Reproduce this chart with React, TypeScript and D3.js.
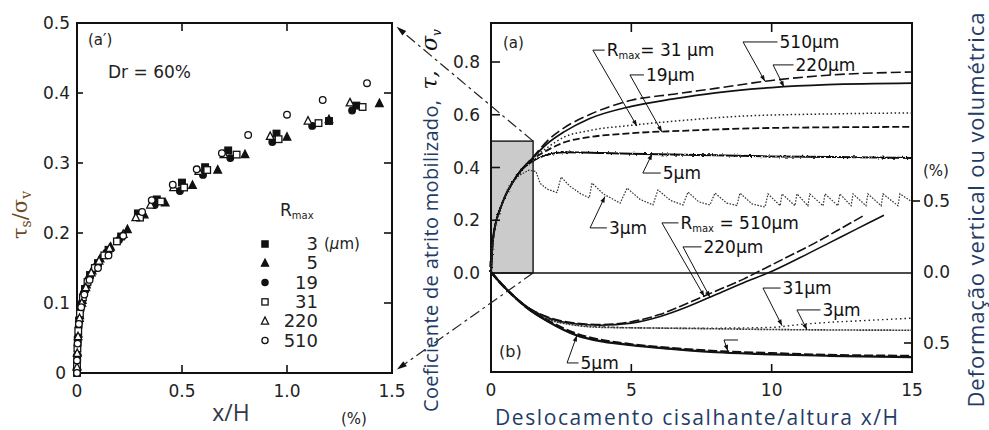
import React from "react";
import * as d3 from "d3";

// ---------- DATA ----------
// Left panel (a'): tau_s / sigma_v vs x/H (%)
const leftXTicks = [0, 0.5, 1.0, 1.5];
const leftXTickLabels = ["0", "0.5", "1.0", "1.5"];
const leftYTicks = [0.1, 0.2, 0.3, 0.4, 0.5];
const leftYTickLabels = ["0.1", "0.2", "0.3", "0.4", "0.5"];

const legendSizes = ["3", "5", "19", "31", "220", "510"];
const legendMarkers = ["fsq", "ftri", "fcirc", "osq", "otri", "ocirc"];

const s3 = [[0.0,0.005],[0.001,0.022],[0.004,0.048],[0.01,0.075],[0.02,0.098],[0.038,0.12],[0.062,0.14],[0.1,0.157],[0.15,0.176],[0.21,0.195],[0.29,0.228],[0.38,0.248],[0.5,0.272],[0.61,0.294],[0.72,0.318],[0.95,0.342],[1.2,0.36],[1.33,0.382]];
const s5 = [[0.0,0.01],[0.002,0.03],[0.006,0.056],[0.013,0.082],[0.025,0.104],[0.045,0.126],[0.072,0.146],[0.11,0.163],[0.16,0.18],[0.24,0.205],[0.32,0.226],[0.42,0.243],[0.55,0.268],[0.67,0.29],[0.8,0.312],[1.0,0.337],[1.2,0.362],[1.44,0.385]];
const s19 = [[0.0,0.002],[0.001,0.016],[0.003,0.04],[0.008,0.066],[0.017,0.09],[0.032,0.114],[0.055,0.134],[0.09,0.152],[0.14,0.172],[0.2,0.19],[0.3,0.225],[0.37,0.24],[0.49,0.26],[0.6,0.283],[0.73,0.307],[0.93,0.33],[1.12,0.353],[1.31,0.375]];
const s31 = [[0.0,0.0],[0.0,0.012],[0.002,0.035],[0.006,0.06],[0.014,0.085],[0.028,0.108],[0.05,0.13],[0.085,0.15],[0.13,0.168],[0.19,0.188],[0.3,0.222],[0.4,0.245],[0.51,0.265],[0.62,0.29],[0.76,0.312],[0.96,0.334],[1.15,0.357],[1.36,0.38]];
const s220 = [[0.0,0.008],[0.001,0.028],[0.005,0.052],[0.012,0.078],[0.023,0.1],[0.042,0.122],[0.068,0.143],[0.105,0.16],[0.155,0.178],[0.22,0.198],[0.28,0.222],[0.35,0.24],[0.46,0.265],[0.58,0.288],[0.7,0.312],[0.92,0.338],[1.1,0.36],[1.3,0.386]];
const s510 = [[0.0,0.0],[0.0,0.018],[0.003,0.042],[0.009,0.07],[0.02,0.094],[0.035,0.112],[0.06,0.133],[0.1,0.15],[0.15,0.168],[0.22,0.196],[0.31,0.23],[0.356,0.247],[0.456,0.269],[0.57,0.291],[0.69,0.314],[0.815,0.34],[1.0,0.369],[1.17,0.39],[1.381,0.414]];
const scatterSeries = [s3, s5, s19, s31, s220, s510];

// Right panel (a)/(b)
const rightXTicks = [0, 5, 10, 15];
const rightXTickLabels = ["0", "5", "10", "15"];
const rightFTicks = [0.0, 0.2, 0.4, 0.6, 0.8];
const rightFTickLabels = ["0.0", "0.2", "0.4", "0.6", "0.8"];
const rightDTicks = [-0.5, 0.0, 0.5];
const rightDTickLabels = ["0.5", "0.0", "0.5"];

// friction coefficient curves (upper, a)
const U510 = [[0,0],[0.05,0.1],[0.15,0.18],[0.3,0.235],[0.5,0.29],[0.75,0.34],[1,0.38],[1.5,0.44],[2,0.5],[2.6,0.55],[3.5,0.6],[5,0.655],[6.5,0.678],[8,0.7],[10,0.73],[12,0.75],[15,0.762]];
const U220 = [[0,0],[0.05,0.1],[0.15,0.18],[0.3,0.235],[0.5,0.29],[0.75,0.34],[1,0.38],[1.5,0.438],[2,0.49],[2.6,0.535],[3.5,0.585],[5,0.632],[6.5,0.66],[8,0.683],[10,0.703],[12,0.714],[15,0.72]];
const U31 = [[0,0],[0.05,0.1],[0.15,0.18],[0.3,0.235],[0.5,0.29],[0.75,0.34],[1,0.38],[1.5,0.435],[2,0.475],[2.6,0.515],[3.5,0.54],[5,0.56],[7,0.58],[9,0.595],[12,0.603],[15,0.607]];
const U19 = [[0,0],[0.05,0.1],[0.15,0.18],[0.3,0.235],[0.5,0.29],[0.75,0.34],[1,0.38],[1.5,0.432],[2,0.465],[2.6,0.495],[3.5,0.515],[5,0.53],[7,0.54],[10,0.55],[15,0.554]];
const U5 = [[0,0],[0.05,0.1],[0.15,0.18],[0.3,0.235],[0.5,0.29],[0.75,0.34],[1,0.38],[1.5,0.425],[2,0.448],[2.6,0.458],[4,0.455],[6,0.45],[8,0.446],[10,0.442],[12,0.44],[15,0.436]];
const U3 = [[0,0],[0.05,0.1],[0.15,0.18],[0.3,0.235],[0.5,0.29],[0.75,0.34],[1,0.37],[1.35,0.39],[1.6,0.385],[1.75,0.34],[2.0,0.318],[2.35,0.305],[2.5,0.364],[2.8,0.33],[3.2,0.3],[3.5,0.285],[3.6,0.341],[4.0,0.3],[4.6,0.265],[4.85,0.322],[5.3,0.28],[5.77,0.258],[5.95,0.315],[6.4,0.275],[6.84,0.258],[7.02,0.307],[7.4,0.27],[7.8,0.258],[7.98,0.303],[8.4,0.265],[8.76,0.256],[8.87,0.303],[9.3,0.262],[9.76,0.25],[9.87,0.3],[10.3,0.255],[10.37,0.3],[10.83,0.255],[10.9,0.3],[11.29,0.255],[11.36,0.3],[11.83,0.255],[11.9,0.3],[12.36,0.255],[12.43,0.3],[12.83,0.255],[12.9,0.3],[13.36,0.255],[13.43,0.3],[13.9,0.255],[13.97,0.3],[14.5,0.255],[14.57,0.3],[15,0.27]];

// vertical / volumetric deformation curves (lower, b), positive = downward
const L510 = [[0,0],[0.35,0.08],[0.7,0.15],[1.4,0.26],[2,0.315],[3,0.36],[3.9,0.37],[5,0.35],[6,0.3],[7,0.22],[8,0.135],[9,0.05],[9.5,0.0],[10.5,-0.1],[11.5,-0.2],[12.5,-0.31],[13.3,-0.4]];
const L220 = [[0,0],[0.35,0.08],[0.7,0.15],[1.4,0.26],[2,0.32],[3,0.365],[3.9,0.375],[5,0.36],[6,0.315],[7,0.245],[8,0.16],[9,0.075],[9.95,0.0],[11,-0.1],[12,-0.2],[13,-0.3],[14,-0.4]];
const L31 = [[0,0],[0.35,0.08],[0.7,0.15],[1.4,0.265],[2,0.325],[3,0.37],[4,0.385],[6,0.395],[8,0.395],[10,0.39],[11,0.37],[12,0.355],[13,0.345],[14,0.335],[15,0.325]];
const L3 = [[0,0],[0.35,0.08],[0.7,0.15],[1.4,0.27],[2,0.33],[3,0.375],[4,0.39],[6,0.395],[8,0.4],[10,0.405],[12,0.408],[15,0.41]];
const L5 = [[0,0],[0.35,0.08],[0.7,0.15],[1.4,0.27],[2,0.345],[3.1,0.45],[4,0.49],[5,0.515],[6,0.535],[8,0.565],[9.5,0.577],[12,0.59],[15,0.6]];
const L19 = [[0,0],[0.35,0.08],[0.7,0.15],[1.4,0.268],[2,0.34],[3.1,0.44],[4,0.482],[5,0.51],[6,0.53],[8,0.558],[10,0.573],[12,0.585],[15,0.592]];

// annotation leaders: text position (x, friction), elbow x, target (x, value, axis)
const annots = [
  { main: "R", sub: "max", rest: "= 31 μm", tx: 4.12, ty: 0.845, ex: 3.63, ax: 5.2, ay: 0.557, axis: "f" },
  { main: "19μm", sub: "", rest: "", tx: 5.52, ty: 0.751, ex: 4.95, ax: 6.09, ay: 0.535, axis: "f" },
  { main: "510μm", sub: "", rest: "", tx: 10.28, ty: 0.876, ex: 8.98, ax: 9.76, ay: 0.727, axis: "f" },
  { main: "220μm", sub: "", rest: "", tx: 10.85, ty: 0.789, ex: 10.05, ax: 10.44, ay: 0.705, axis: "f" },
  { main: "5μm", sub: "", rest: "", tx: 6.12, ty: 0.379, ex: 5.41, ax: 5.74, ay: 0.452, axis: "f" },
  { main: "3μm", sub: "", rest: "", tx: 4.2, ty: 0.171, ex: 3.53, ax: 4.06, ay: 0.29, axis: "f" },
  { main: "R", sub: "max", rest: " = 510μm", tx: 6.75, ty: 0.19, ex: 6.09, ax: 7.6, ay: 0.172, axis: "d" },
  { main: "220μm", sub: "", rest: "", tx: 7.57, ty: 0.099, ex: 6.84, ax: 7.8, ay: 0.177, axis: "d" },
  { main: "31μm", sub: "", rest: "", tx: 10.39, ty: -0.057, ex: 9.69, ax: 10.37, ay: 0.378, axis: "d" },
  { main: "3μm", sub: "", rest: "", tx: 11.81, ty: -0.14, ex: 10.9, ax: 11.26, ay: 0.407, axis: "d" },
  { main: "5μm", sub: "", rest: "", tx: 3.19, ty: -0.341, ex: 2.71, ax: 3.06, ay: 0.447, axis: "d" },
  { main: "", sub: "", rest: "", tx: 8.8, ty: -0.254, ex: 8.3, ax: 8.44, ay: 0.556, axis: "d" },
];

// ---------- SCALES ----------
const lx = d3.scaleLinear().domain([0, 1.5]).range([77, 392]);
const ly = d3.scaleLinear().domain([0, 0.5]).range([373, 23]);
const rx = d3.scaleLinear().domain([0, 15]).range([491, 912]);
const ry = d3.scaleLinear().domain([0, 0.8]).range([273, 62]);
const rd = d3.scaleLinear().domain([0, 0.5]).range([272, 343]);

const FONT = "DejaVu Sans, Liberation Sans, sans-serif";
const PT = "Open Sans, Noto Sans, sans-serif";
const NAVY = "#1f3b66";

function Marker({ type, x, y, s = 3.4 }: { type: string; x: number; y: number; s?: number }) {
  const filled = type[0] === "f";
  const fill = filled ? "#111" : "#fff";
  const stroke = "#111";
  const sw = 1.3;
  if (type.endsWith("sq")) return <rect x={x - s} y={y - s} width={2 * s} height={2 * s} fill={fill} stroke={stroke} strokeWidth={sw} />;
  if (type.endsWith("circ")) return <circle cx={x} cy={y} r={s} fill={fill} stroke={stroke} strokeWidth={sw} />;
  const h = s * 1.15;
  return <path d={`M${x},${y - h - 0.6}L${x + h},${y + h * 0.8}L${x - h},${y + h * 0.8}Z`} fill={fill} stroke={stroke} strokeWidth={sw} />;
}

function arrowHead(tip: number[], from: number[], len: number, wid: number) {
  const dx = from[0] - tip[0], dy = from[1] - tip[1];
  const L = Math.hypot(dx, dy) || 1;
  const ux = dx / L, uy = dy / L;
  const bx = tip[0] + ux * len, by = tip[1] + uy * len;
  const px = -uy * wid, py = ux * wid;
  return `M${tip[0]},${tip[1]}L${bx + px},${by + py}L${bx - px},${by - py}Z`;
}

export default function App() {
  const lineF = d3.line<number[]>().x((d) => rx(d[0])).y((d) => ry(d[1])).curve(d3.curveMonotoneX);
  const lineFlin = d3.line<number[]>().x((d) => rx(d[0])).y((d) => ry(d[1]));
  const lineD = d3.line<number[]>().x((d) => rx(d[0])).y((d) => rd(d[1])).curve(d3.curveMonotoneX);

  // connector arrows between gray box and left panel
  const connectors = [
    { from: [rx(1.5), ry(0.5)], to: [lx(1.5), ly(0.5)] },
    { from: [rx(1.5), ry(0)], to: [lx(1.5), ly(0)] },
  ].map(({ from, to }) => {
    const dx = from[0] - to[0], dy = from[1] - to[1];
    const L = Math.hypot(dx, dy);
    const ux = dx / L, uy = dy / L;
    const tip = [to[0] + ux * 6, to[1] + uy * 6];
    const base = [tip[0] + ux * 10, tip[1] + uy * 10];
    return { from, tip, base };
  });

  const rTop = 23, rBot = 372;

  return (
    <svg width={989} height={430} style={{ position: "absolute", left: 0, top: 0, background: "#fff" }} fontFamily={FONT}>
      <defs>
        <filter id="wob" filterUnits="userSpaceOnUse" x="0" y="0" width="989" height="430">
          <feTurbulence type="fractalNoise" baseFrequency="0.45" numOctaves="1" seed="4" />
          <feDisplacementMap in="SourceGraphic" scale="3.5" xChannelSelector="R" yChannelSelector="G" />
        </filter>
      </defs>
      <rect x={0} y={0} width={989} height={430} fill="#fff" />

      {/* ================= LEFT PANEL ================= */}
      <rect x={lx(0)} y={ly(0.5)} width={lx(1.5) - lx(0)} height={ly(0) - ly(0.5)} fill="none" stroke="#111" strokeWidth={2} />
      {leftYTicks.slice(0, 4).map((t) => (
        <g key={"lyt" + t}>
          <line x1={lx(0)} x2={lx(0) + 6} y1={ly(t)} y2={ly(t)} stroke="#111" strokeWidth={1.6} />
          <line x1={lx(1.5)} x2={lx(1.5) - 8} y1={ly(t)} y2={ly(t)} stroke="#111" strokeWidth={1.6} />
        </g>
      ))}
      {leftXTicks.slice(1, 3).map((t) => (
        <g key={"lxt" + t}>
          <line x1={lx(t)} x2={lx(t)} y1={ly(0)} y2={ly(0) - 8} stroke="#111" strokeWidth={1.6} />
          <line x1={lx(t)} x2={lx(t)} y1={ly(0.5)} y2={ly(0.5) + 8} stroke="#111" strokeWidth={1.6} />
        </g>
      ))}
      {leftYTicks.map((t, i) => (
        <text key={"lyl" + t} x={70} y={ly(t) + 6} textAnchor="end" fontSize={17} fill="#222">{leftYTickLabels[i]}</text>
      ))}
      <text x={66} y={ly(0) + 6} textAnchor="end" fontSize={17} fill="#222">0</text>
      {leftXTicks.map((t, i) => (
        <text key={"lxl" + t} x={lx(t)} y={397} textAnchor="middle" fontSize={17} fill="#222">{leftXTickLabels[i]}</text>
      ))}
      <text x={231} y={421} textAnchor="middle" fontSize={23} fontFamily={PT} fill="#333845">x/H</text>
      <text x={354} y={424} textAnchor="middle" fontSize={15} fill="#222">(%)</text>
      <text transform="translate(27,215) rotate(-90)" textAnchor="middle" fontSize={21} fontFamily="DejaVu Serif, serif" fill="#6e4a22">
        τ<tspan fontSize={14} dy={4}>s</tspan><tspan dy={-4}>/σ</tspan><tspan fontSize={14} dy={4}>v</tspan>
      </text>
      <text x={88} y={45} fontSize={15} fill="#222">(a′)</text>
      <text x={108} y={78} fontSize={17} fill="#222">Dr = 60%</text>

      {/* legend */}
      <text x={280} y={216} fontSize={17} fill="#222">R<tspan fontSize={10} dy={3}>max</tspan></text>
      {legendSizes.map((s, i) => (
        <g key={"leg" + s}>
          <Marker type={legendMarkers[i]} x={265} y={244 + i * 19.3} s={3.1} />
          <text x={318} y={250 + i * 19.3} textAnchor="end" fontSize={18} fill="#222">{s}</text>
        </g>
      ))}
      <text x={324} y={249} fontSize={15} fill="#222">(<tspan fontStyle="italic">μ</tspan>m)</text>

      {/* scatter */}
      {scatterSeries.map((ser, si) =>
        ser.map((p, pi) => <Marker key={`sc${si}-${pi}`} type={legendMarkers[si]} x={lx(p[0])} y={ly(p[1])} s={3.3} />)
      )}

      {/* ================= RIGHT PANEL ================= */}
      {/* gray box */}
      <rect x={rx(0)} y={ry(0.5)} width={rx(1.5) - rx(0)} height={ry(0) - ry(0.5)} fill="#cbcbcb" stroke="#222" strokeWidth={1.5} />
      <rect x={rx(0)} y={rTop} width={rx(15) - rx(0)} height={rBot - rTop} fill="none" stroke="#111" strokeWidth={2} />
      <line x1={rx(0)} x2={rx(15)} y1={ry(0)} y2={ry(0)} stroke="#111" strokeWidth={1.5} />

      {/* ticks */}
      {rightXTicks.slice(1, 3).map((t) => (
        <g key={"rxt" + t}>
          <line x1={rx(t)} x2={rx(t)} y1={rTop} y2={rTop + 9} stroke="#111" strokeWidth={1.6} />
          <line x1={rx(t)} x2={rx(t)} y1={rBot} y2={rBot - 8} stroke="#111" strokeWidth={1.6} />
        </g>
      ))}
      {rightFTicks.slice(1).map((t) => (
        <line key={"rft" + t} x1={rx(0)} x2={rx(0) + 9} y1={ry(t)} y2={ry(t)} stroke="#111" strokeWidth={1.6} />
      ))}
      <line x1={rx(15)} x2={rx(15) - 8} y1={rd(0.5)} y2={rd(0.5)} stroke="#111" strokeWidth={1.6} />
      <line x1={rx(15)} x2={rx(15) + 8} y1={rd(-0.5)} y2={rd(-0.5)} stroke="#111" strokeWidth={1.6} />

      {rightFTicks.map((t, i) => (
        <text key={"rfl" + t} x={480} y={ry(t) + 6} textAnchor="end" fontSize={17} fill="#222">{rightFTickLabels[i]}</text>
      ))}
      {rightDTicks.map((t, i) => (
        <text key={"rdl" + t} x={923} y={rd(t) + 6} fontSize={17} fill="#222">{rightDTickLabels[i]}</text>
      ))}
      <text x={936} y={176} textAnchor="middle" fontSize={15} fill="#222">(%)</text>
      {rightXTicks.map((t, i) => (
        <text key={"rxl" + t} x={rx(t)} y={396} textAnchor="middle" fontSize={17} fill="#222">{rightXTickLabels[i]}</text>
      ))}
      <text x={503} y={48} fontSize={15} fill="#222">(a)</text>
      <text x={499} y={357} fontSize={16} fill="#222">(b)</text>

      {/* upper curves */}
      <path d={lineF(U510) || ""} fill="none" stroke="#111" strokeWidth={1.6} strokeDasharray="10,4" />
      <path d={lineF(U220) || ""} fill="none" stroke="#111" strokeWidth={1.7} />
      <path d={lineF(U31) || ""} fill="none" stroke="#222" strokeWidth={1.5} strokeDasharray="1.5,2.5" />
      <path d={lineF(U19) || ""} fill="none" stroke="#111" strokeWidth={1.8} strokeDasharray="7,3" />
      <path d={lineF(U5) || ""} fill="none" stroke="#111" strokeWidth={2} filter="url(#wob)" />
      <path d={lineFlin(U3) || ""} fill="none" stroke="#333" strokeWidth={1.2} strokeDasharray="1.6,1.4" />

      {/* lower curves */}
      <path d={lineD(L510) || ""} fill="none" stroke="#111" strokeWidth={1.6} strokeDasharray="10,3" />
      <path d={lineD(L220) || ""} fill="none" stroke="#111" strokeWidth={1.6} />
      <path d={lineD(L31) || ""} fill="none" stroke="#222" strokeWidth={1.4} strokeDasharray="1.5,3" />
      <path d={lineD(L3) || ""} fill="none" stroke="#333" strokeWidth={1.6} strokeDasharray="2,1" />
      <path d={lineD(L19) || ""} fill="none" stroke="#111" strokeWidth={2.6} strokeDasharray="9,3" />
      <path d={lineD(L5) || ""} fill="none" stroke="#111" strokeWidth={2.2} />

      {/* annotations */}
      {annots.map((a, i) => {
        const tX = rx(a.tx), tY = ry(a.ty);
        const eX = rx(a.ex);
        const aX = rx(a.ax), aY = a.axis === "f" ? ry(a.ay) : rd(a.ay);
        const hEnd = a.main ? tX - 2 : tX;
        return (
          <g key={"ann" + i}>
            <path d={`M${hEnd},${tY}L${eX},${tY}L${aX},${aY}`} fill="none" stroke="#111" strokeWidth={1} />
            <path d={arrowHead([aX, aY], [eX, tY], 6, 2.2)} fill="#111" />
            {a.main && (
              <text x={tX} y={tY + 6} fontSize={17} fill="#111">
                {a.main}
                {a.sub && <tspan fontSize={10} dy={3}>{a.sub}</tspan>}
                {a.rest && <tspan dy={a.sub ? -3 : 0}>{a.rest}</tspan>}
              </text>
            )}
          </g>
        );
      })}

      {/* connectors */}
      {connectors.map((c, i) => (
        <g key={"con" + i}>
          <line x1={c.from[0]} y1={c.from[1]} x2={c.base[0]} y2={c.base[1]} stroke="#222" strokeWidth={1.2} strokeDasharray="11,4,3,4" />
          <path d={arrowHead(c.tip, c.from, 10, 3)} fill="#111" />
        </g>
      ))}

      {/* axis titles (Portuguese) */}
      <text transform="translate(438,256) rotate(-90)" textAnchor="middle" fontSize={20} fontFamily={PT} fill={NAVY} textLength={312} lengthAdjust="spacing">
        Coeficiente de atrito mobilizado,
      </text>
      <text transform="translate(437,80) rotate(-90)" textAnchor="middle" fontSize={22} fontFamily="DejaVu Serif, serif" fontStyle="italic" fill="#111">τ,</text>
      <text transform="translate(437,40) rotate(-90)" textAnchor="middle" fontSize={22} fontFamily="DejaVu Serif, serif" fontStyle="italic" fill="#111">
        σ<tspan fontSize={12} dy={4}>v</tspan>
      </text>
      <text x={495} y={425} fontSize={21} fontFamily={PT} fill={NAVY} textLength={403} lengthAdjust="spacing">
        Deslocamento cisalhante/altura x/H
      </text>
      <text transform="translate(984,210) rotate(-90)" textAnchor="middle" fontSize={22} fontFamily={PT} fill={NAVY} textLength={395} lengthAdjust="spacing">
        Deformação vertical ou volumétrica
      </text>
    </svg>
  );
}
